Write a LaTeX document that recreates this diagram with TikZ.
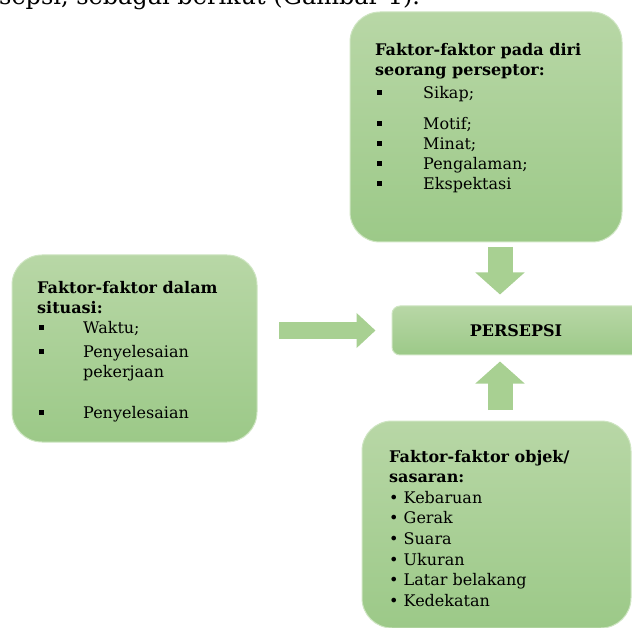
\documentclass[tikz,border=0pt]{standalone}
\usepackage{fontspec}
\setmainfont{DejaVu Serif}
\usetikzlibrary{arrows.meta}

\definecolor{boxtop}{RGB}{184,215,166}
\definecolor{boxbot}{RGB}{156,201,136}
\definecolor{boxline}{RGB}{206,229,194}
\definecolor{arrowfill}{RGB}{168,208,146}

% square bullet with the item text after it
\newcommand{\sqitem}[1][46pt]{\makebox[#1][l]{\hspace{1.5pt}\rule[3.5pt]{5pt}{5pt}}}

\begin{document}
\begin{tikzpicture}[x=1pt,y=-1pt,
  factorbox/.style={draw=boxline, line width=1pt, top color=boxtop, bottom color=boxbot,
    rounded corners=30pt, inner sep=0pt},
  factortext/.style={anchor=north west, inner sep=0pt, align=left,
    font=\fontsize{16}{20}\selectfont},
  blockarrow/.style={draw=arrowfill, line width=25pt,
    -{Triangle[width=48pt,length=22pt]}}]
  \useasboundingbox (0,0) rectangle (632,628);

  % line of body text cut by the page top
  \node[anchor=base west, inner sep=0pt, font=\fontsize{24}{28}\selectfont] (caption) at (-1,5)
    {sepsi, sebagai berikut (Gambar 1).};

  % the boxes
  \node[factorbox, minimum width=272pt, minimum height=230pt] (diri) at (486,127) {};
  \node[factorbox, minimum width=245pt, minimum height=187pt] (situasi) at (134.5,348.5) {};
  \node[factorbox, rounded corners=8pt, minimum width=248pt, minimum height=49pt,
    font=\fontsize{16}{20}\selectfont\bfseries] (persepsi) at (516,330.5) {PERSEPSI};
  \node[factorbox, minimum width=269pt, minimum height=207pt] (objek) at (496.5,524.5) {};

  % the texts in the boxes
  \node[factortext] (diritext) at (375,42.8)
    {\textbf{Faktor-faktor pada diri}\\
     \textbf{seorang perseptor:}\\[3pt]
     \sqitem[48pt]Sikap;\\[11pt]
     \sqitem[48pt]Motif;\\
     \sqitem[48pt]Minat;\\
     \sqitem[48pt]Pengalaman;\\
     \sqitem[48pt]Ekspektasi};
  \node[factortext] (situasitext) at (37,280.8)
    {\textbf{Faktor-faktor dalam}\\
     \textbf{situasi:}\\
     \sqitem Waktu;\\[4pt]
     \sqitem Penyelesaian\\
     \hspace*{46pt}pekerjaan\\[21pt]
     \sqitem Penyelesaian};
  \node[factortext, font=\fontsize{16}{20.6}\selectfont] (objektext) at (389,449.8)
    {\textbf{Faktor-faktor objek/}\\
     \textbf{sasaran:}\\
     • Kebaruan\\
     • Gerak\\
     • Suara\\
     • Ukuran\\
     • Latar belakang\\
     • Kedekatan};

  % Draw the arrows into PERSEPSI
  \coordinate (dstart) at (500,247);
  \coordinate (ustart) at (500,410);
  \coordinate (rstart) at (279,330.5);
  \draw[blockarrow, shorten >=11pt] (dstart) -- (dstart |- persepsi.north);
  \draw[blockarrow, shorten >=6pt] (ustart) -- (ustart |- persepsi.south);
  \draw[blockarrow, line width=17pt, -{Triangle[width=34pt,length=19pt]}, shorten >=16pt]
    (rstart) -- (persepsi.west);
\end{tikzpicture}
\end{document}
